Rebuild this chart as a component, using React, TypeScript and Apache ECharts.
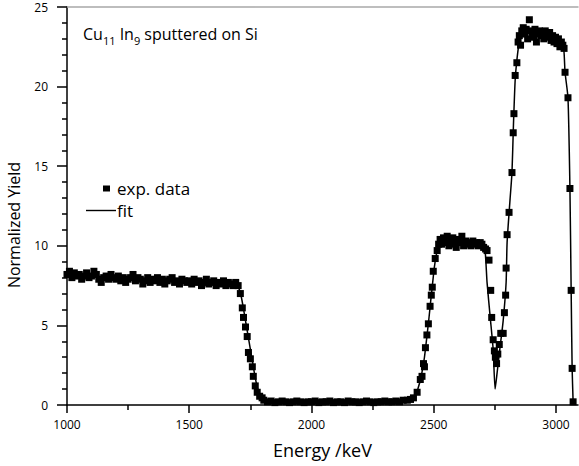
import React, { useEffect, useRef } from "react";
import * as echarts from "echarts";

const FONT = "Open Sans";

const xMajorTicks = [1000, 1500, 2000, 2500, 3000];
const xMinorTicks = [1250, 1750, 2250, 2750];

// experimental data [energy keV, normalized yield]
const expData: [number, number][] = [
  [1000, 8.2], [1010, 8.4], [1020, 8.0], [1030, 8.3], [1040, 8.1], [1050, 8.2], [1060, 7.9], [1070, 8.1],
  [1080, 8.3], [1090, 8.0], [1100, 8.1], [1110, 8.4], [1120, 8.2], [1130, 7.9], [1140, 7.7], [1150, 8.0],
  [1160, 8.1], [1170, 7.9], [1180, 8.2], [1190, 8.0], [1200, 7.9], [1210, 8.1], [1220, 7.8], [1230, 8.0],
  [1240, 7.7], [1250, 7.9], [1260, 8.0], [1270, 8.2], [1280, 7.8], [1290, 8.0], [1300, 7.9], [1310, 7.6],
  [1320, 7.8], [1330, 8.0], [1340, 7.7], [1350, 7.9], [1360, 7.8], [1370, 8.0], [1380, 7.7], [1390, 7.9],
  [1400, 7.6], [1410, 7.8], [1420, 7.9], [1430, 8.0], [1440, 7.7], [1450, 7.8], [1460, 7.6], [1470, 7.9],
  [1480, 7.8], [1490, 7.7], [1500, 7.8], [1510, 7.6], [1520, 7.9], [1530, 7.7], [1540, 7.8], [1550, 7.5],
  [1560, 7.7], [1570, 7.9], [1580, 7.6], [1590, 7.7], [1600, 7.8], [1610, 7.5], [1620, 7.7], [1630, 7.6],
  [1640, 7.8], [1650, 7.5], [1660, 7.7], [1670, 7.6], [1680, 7.5], [1690, 7.7], [1700, 7.5],
  [1709, 7.0], [1717, 6.1], [1722, 5.5], [1730, 4.9], [1737, 4.3], [1742, 3.3], [1750, 2.9], [1758, 2.4],
  [1762, 1.8], [1770, 1.2], [1778, 0.8], [1788, 0.55], [1798, 0.45],
  [1805, 0.3], [1820, 0.2], [1835, 0.25], [1850, 0.15], [1865, 0.2], [1880, 0.25], [1895, 0.2], [1910, 0.15],
  [1925, 0.2], [1940, 0.25], [1955, 0.2], [1970, 0.15], [1985, 0.2], [2000, 0.2], [2015, 0.25], [2030, 0.15],
  [2045, 0.2], [2060, 0.2], [2075, 0.25], [2090, 0.15], [2105, 0.2], [2120, 0.2], [2135, 0.15], [2150, 0.25],
  [2165, 0.2], [2180, 0.2], [2195, 0.15], [2210, 0.2], [2225, 0.25], [2240, 0.2], [2255, 0.15], [2270, 0.2],
  [2285, 0.2], [2300, 0.25], [2315, 0.2], [2330, 0.2], [2345, 0.25], [2360, 0.2], [2375, 0.3], [2392, 0.3],
  [2405, 0.35], [2417, 0.45], [2432, 0.8], [2445, 1.6], [2452, 1.8], [2458, 2.6], [2462, 2.4], [2466, 3.6],
  [2472, 4.4], [2478, 5.1], [2485, 6.2], [2490, 6.9], [2494, 7.4], [2498, 8.4], [2506, 9.2], [2514, 9.7],
  [2520, 10.1], [2526, 10.4], [2532, 10.1], [2540, 10.5], [2548, 10.2], [2555, 10.6], [2562, 10.0],
  [2570, 10.3], [2578, 10.5], [2585, 10.1], [2592, 9.9], [2600, 10.4], [2608, 10.2], [2615, 10.6],
  [2622, 10.0], [2630, 10.3], [2638, 10.1], [2645, 10.2], [2652, 10.0], [2660, 10.3], [2668, 10.1],
  [2675, 10.2], [2682, 10.0], [2690, 10.2], [2697, 10.1], [2704, 9.9], [2712, 9.8], [2718, 9.7],
  [2726, 9.1], [2733, 7.2], [2737, 5.5], [2743, 4.1], [2748, 3.4], [2752, 3.0], [2757, 2.6], [2762, 3.2],
  [2768, 3.8], [2774, 4.5], [2784, 4.5], [2789, 5.8], [2794, 6.9], [2796, 8.6], [2800, 10.7], [2808, 12.1],
  [2820, 14.6], [2825, 17.1], [2828, 18.3], [2833, 20.7], [2840, 21.5],
  [2845, 22.8], [2850, 23.2], [2855, 22.6], [2860, 23.5], [2866, 23.7], [2872, 23.3], [2878, 23.6],
  [2884, 23.0], [2891, 24.2], [2896, 23.5], [2902, 23.4], [2908, 23.1], [2914, 23.6], [2920, 22.8],
  [2926, 23.3], [2932, 23.5], [2938, 23.2], [2944, 23.4], [2950, 23.0], [2956, 23.5], [2962, 23.3],
  [2968, 23.1], [2974, 23.4], [2980, 22.9], [2986, 23.2], [2992, 22.8], [2998, 23.1], [3004, 22.7],
  [3010, 23.0], [3016, 22.5], [3022, 22.8], [3028, 22.6], [3033, 22.4],
  [3037, 20.9], [3049, 19.3], [3057, 13.6], [3062, 7.2], [3066, 2.3], [3070, 0.2],
];

// fitted spectrum [energy keV, normalized yield]
const fitData: [number, number][] = [
  [1000, 8.15], [1100, 8.1], [1200, 8.0], [1300, 7.9], [1400, 7.85], [1500, 7.75], [1600, 7.7],
  [1680, 7.6], [1700, 7.4], [1710, 7.0], [1720, 6.2], [1730, 5.3], [1740, 4.4], [1750, 3.5],
  [1760, 2.6], [1770, 1.7], [1780, 1.0], [1790, 0.5], [1800, 0.3], [1820, 0.2], [2400, 0.2],
  [2420, 0.5], [2435, 1.0], [2450, 1.9], [2462, 3.0], [2472, 4.3], [2480, 5.4], [2488, 6.6],
  [2495, 7.6], [2502, 8.6], [2510, 9.4], [2518, 9.9], [2528, 10.2], [2560, 10.3], [2620, 10.3],
  [2680, 10.2], [2700, 10.1], [2710, 9.7], [2718, 7.7], [2731, 5.5], [2743, 3.5], [2751, 1.0],
  [2759, 2.0], [2771, 3.6], [2784, 5.3], [2796, 7.7], [2800, 10.2], [2812, 12.9], [2820, 14.6],
  [2826, 17.6], [2833, 20.4], [2841, 21.8], [2850, 22.8], [2862, 23.3], [2900, 23.4], [2950, 23.3],
  [2990, 23.1], [3020, 22.8], [3032, 22.3], [3037, 20.9], [3049, 19.3], [3057, 13.6], [3062, 7.2],
  [3066, 2.3], [3070, 0.2],
];

const X_MIN = 1000;
const X_MAX = 3090;
const Y_MIN = 0;
const Y_MAX = 25;

const tickStyle = { color: "#000", width: 1.5 };

export default function App() {
  const ref = useRef<HTMLDivElement>(null);
  useEffect(() => {
    if (!ref.current) return;
    const chart = echarts.init(ref.current, undefined, { renderer: "svg" });
    chart.setOption({
      animation: false,
      backgroundColor: "#ffffff",
      textStyle: { fontFamily: FONT },
      grid: { left: 67, right: 1, top: 7, bottom: 61, outerBoundsMode: "none", containLabel: false },
      legend: [
        {
          data: [{ name: "exp. data", icon: "rect" }],
          left: 103, top: 180, padding: 0, itemWidth: 7, itemHeight: 6, selectedMode: false,
          textStyle: { fontFamily: FONT, fontSize: 17, color: "#000", padding: [0, 0, 0, 2] },
        },
        {
          data: [{ name: "fit", icon: "path://M0,0H32V1.5H0Z" }],
          left: 86, top: 202, padding: 0, itemWidth: 30, itemHeight: 1.5, selectedMode: false,
          itemStyle: { color: "#000" },
          textStyle: { fontFamily: FONT, fontSize: 17, color: "#000", padding: [0, 0, 0, -4] },
        },
      ],
      xAxis: [
        {
          type: "value", position: "bottom", min: X_MIN, max: X_MAX,
          name: "Energy /keV", nameLocation: "middle", nameGap: 36,
          nameTextStyle: { fontFamily: FONT, fontSize: 18, color: "#000" },
          axisLine: { show: true, onZero: false, lineStyle: { color: "#000", width: 1.5 } },
          axisTick: { show: true, length: 8, customValues: xMajorTicks, lineStyle: { ...tickStyle } },
          axisLabel: { customValues: xMajorTicks, margin: 13, fontFamily: FONT, fontSize: 12, color: "#000", formatter: (v: number) => String(v) },
          splitLine: { show: false },
        },
        {
          type: "value", position: "bottom", min: X_MIN, max: X_MAX,
          axisLine: { show: false, onZero: false },
          axisTick: { show: true, length: 5, customValues: xMinorTicks, lineStyle: { ...tickStyle } },
          axisLabel: { show: false },
          splitLine: { show: false },
        },
        {
          type: "value", position: "top", min: X_MIN, max: X_MAX,
          axisLine: { show: true, onZero: false, lineStyle: { color: "#a8a8a8", width: 1.5 } },
          axisTick: { show: false },
          axisLabel: { show: false },
          splitLine: { show: false },
        },
      ],
      yAxis: {
        type: "value", position: "left", min: Y_MIN, max: Y_MAX, interval: 5,
        name: "Normalized Yield", nameLocation: "middle", nameGap: 45,
        nameTextStyle: { fontFamily: FONT, fontSize: 16, color: "#000", padding: [0, 38, 0, 0] },
        axisLine: { show: true, onZero: false, lineStyle: { color: "#000", width: 1.5 } },
        axisTick: { show: true, length: 10, lineStyle: { ...tickStyle } },
        minorTick: { show: true, splitNumber: 5, length: 5, lineStyle: { ...tickStyle } },
        axisLabel: { margin: 19, fontFamily: FONT, fontSize: 12, color: "#000" },
        splitLine: { show: false },
        minorSplitLine: { show: false },
      },
      graphic: [
        {
          type: "text", left: 83, top: 26,
          style: {
            text: "{a|Cu}{s|11}{a| In}{s|9}{a| sputtered on Si}",
            rich: {
              a: { fontFamily: FONT, fontSize: 16, color: "#000", lineHeight: 22, verticalAlign: "bottom" },
              s: { fontFamily: FONT, fontSize: 11, color: "#000", lineHeight: 22, verticalAlign: "bottom", padding: [0, 0, -4, 0] },
            },
          },
        },
      ],
      series: [
        {
          name: "exp. data", type: "scatter", xAxisIndex: 0, yAxisIndex: 0, data: expData,
          symbol: "rect", symbolSize: 7, itemStyle: { color: "#000", opacity: 1 },
        },
        {
          name: "fit", type: "line", xAxisIndex: 0, yAxisIndex: 0, data: fitData, showSymbol: false, symbol: "none",
          smooth: 0.2, lineStyle: { color: "#000", width: 1.5 }, itemStyle: { color: "#000" },
        },
      ],
    });
    return () => chart.dispose();
  }, []);
  return (
    <div ref={ref} style={{ position: "fixed", left: 0, top: 0, width: 579, height: 466 }} />
  );
}
